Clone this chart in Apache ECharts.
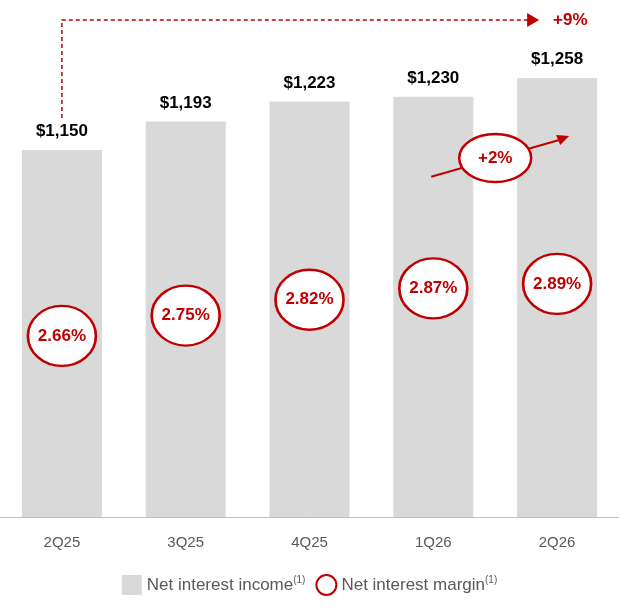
<!DOCTYPE html>
<html><head><meta charset="utf-8">
<script src="https://cdn.jsdelivr.net/npm/echarts@6/dist/echarts.min.js"></script>
<style>body{margin:0}#c{width:619px;height:609px}</style>
</head><body><div id="c"></div>
<script>
var quarters = ['2Q25', '3Q25', '4Q25', '1Q26', '2Q26'];
var income = [1150, 1193, 1223, 1230, 1258];
var margin = [2.66, 2.75, 2.82, 2.87, 2.89];
var RED = '#c00000';

var chart = echarts.init(document.getElementById('c'));
chart.setOption({
  animation: false,
  grid: {left: 0, right: 0, top: 10, bottom: 92},
  xAxis: {
    type: 'category', data: quarters,
    axisTick: {show: false},
    axisLine: {lineStyle: {color: '#bfbfbf'}},
    axisLabel: {color: '#595959', fontSize: 15, margin: 18, fontFamily: 'Arial'}
  },
  yAxis: [
    {type: 'value', min: 600, max: 1360, show: false},
    {type: 'value', min: 1.86, max: 4.1, show: false}
  ],
  legend: {
    bottom: 8, left: 'center', itemGap: 10, itemWidth: 20, itemHeight: 20,
    textStyle: {color: '#595959', fontSize: 17, fontFamily: 'Arial',
      rich: {s: {fontSize: 10, color: '#595959', verticalAlign: 'top', padding: [0, 0, 10, 0]}}},
    formatter: function (n) { return n + '{s|(1)}'; },
    data: [
      {name: 'Net interest income', icon: 'rect', itemStyle: {color: '#d9d9d9'}},
      {name: 'Net interest margin', icon: 'circle', itemStyle: {color: '#fff', borderColor: RED, borderWidth: 2}}
    ]
  },
  series: [
    {
      name: 'Net interest income', type: 'bar', data: income, barWidth: 80,
      itemStyle: {color: '#d9d9d9'},
      label: {show: true, position: 'top', distance: 10, color: '#000', fontWeight: 'bold', fontSize: 17,
        fontFamily: 'Arial', formatter: function (p) { return '$' + p.value.toLocaleString('en-US'); }}
    },
    {
      name: 'Net interest margin', type: 'scatter', yAxisIndex: 1, data: margin,
      symbol: 'circle', symbolSize: [68, 60],
      itemStyle: {color: '#fff', borderColor: RED, borderWidth: 2.5, opacity: 1},
      label: {show: true, position: 'inside', color: RED, fontWeight: 'bold', fontSize: 17,
        fontFamily: 'Arial', formatter: function (p) { return p.value.toFixed(2) + '%'; }}
    }
  ]
});

// annotations positioned from the axes
var p0 = chart.convertToPixel({seriesIndex: 0}, [0, income[0]]);
var p4 = chart.convertToPixel({seriesIndex: 0}, [4, income[4]]);
var p3 = chart.convertToPixel({seriesIndex: 0}, [3, income[3]]);
var topY = 20;
var cx = (p3[0] + p4[0]) / 2, cy = p4[1] + 80;
chart.setOption({
  graphic: [
    {type: 'polyline', z: 100, shape: {points: [[p0[0], p0[1] - 32], [p0[0], topY], [p4[0] - 28, topY]]},
      style: {stroke: RED, lineWidth: 1.5, lineDash: [4, 3], fill: null}},
    {type: 'polygon', z: 100, shape: {points: [[p4[0] - 30, topY - 7], [p4[0] - 30, topY + 7], [p4[0] - 18, topY]]},
      style: {fill: RED}},
    {type: 'text', z: 100, x: p4[0] - 4, y: topY, style: {text: '+9%', fill: RED, font: 'bold 17px Arial', verticalAlign: 'middle'}},
    {type: 'line', z: 100, shape: {x1: p3[0] - 2, y1: p3[1] + 80, x2: p4[0] + 2, y2: p4[1] + 62},
      style: {stroke: RED, lineWidth: 2}},
    {type: 'polygon', z: 100, shape: {points: [[p4[0] + 12, p4[1] + 58], [p4[0] - 1, p4[1] + 57], [p4[0] + 3, p4[1] + 67]]},
      style: {fill: RED}},
    {type: 'ellipse', z: 101, shape: {cx: cx, cy: cy, rx: 36, ry: 24},
      style: {fill: '#fff', stroke: RED, lineWidth: 2.5}},
    {type: 'text', z: 102, x: cx, y: cy,
      style: {text: '+2%', fill: RED, font: 'bold 17px Arial', align: 'center', verticalAlign: 'middle'}}
  ]
});
</script></body></html>
